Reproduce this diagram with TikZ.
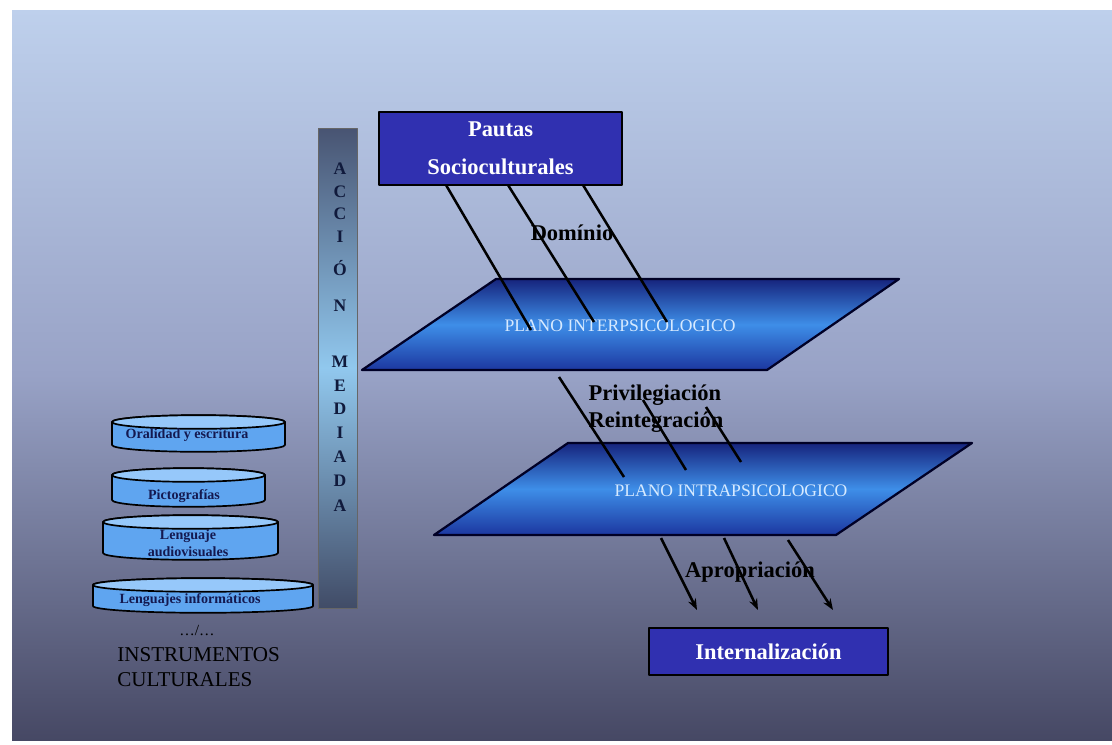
\documentclass[tikz,border=0pt]{standalone}
\usepackage{fontspec}
\setmainfont{Liberation Serif}
\usetikzlibrary{arrows.meta}

\definecolor{bgtop}{RGB}{190,208,236}
\definecolor{bgmid}{RGB}{152,162,198}
\definecolor{bgbot}{RGB}{70,72,100}
\definecolor{boxblue}{RGB}{48,48,176}
\definecolor{pltop}{RGB}{22,36,125}
\definecolor{plbot}{RGB}{28,55,160}
\definecolor{plblue}{RGB}{62,142,232}
\definecolor{cylblue}{RGB}{95,165,240}
\definecolor{cyltop}{RGB}{150,200,250}
\definecolor{cylink}{RGB}{20,25,80}
\definecolor{bardark}{RGB}{72,84,114}
\definecolor{barlight}{RGB}{145,200,238}
\definecolor{barink}{RGB}{16,26,60}
\definecolor{planink}{RGB}{215,234,255}

\tikzset{
  boxnode/.style={draw=black, line width=1pt, fill=boxblue, text=white, align=center, font=\fontsize{16}{19}\selectfont\bfseries},
  plane/.style={draw=black!85!blue, line width=1.6pt, top color=pltop, bottom color=plbot, middle color=plblue},
  planetext/.style={text=planink, font=\fontsize{12.5}{15}\selectfont},
  barletter/.style={text=barink, font=\fontsize{12.5}{15}\selectfont\bfseries, inner sep=0pt},
  arrowlabel/.style={font=\fontsize{16}{19}\selectfont\bfseries, inner sep=0pt},
  cylbody/.style={draw=black, line width=1.2pt, fill=cylblue},
  cyltopface/.style={draw=black, line width=1.2pt, fill=cyltop},
  cyltext/.style={text=cylink, font=\fontsize{10}{12}\selectfont\bfseries, align=center, inner sep=0pt},
  link/.style={line width=1.8pt}
}

% cylinder of the stack: centre x, top y, base y, half width
\newcommand{\instcyl}[4]{%
  \filldraw[cylbody] (#1-#4,#2) -- (#1-#4,#3) arc[start angle=180, end angle=360, x radius=#4*0.025cm, y radius=0.17cm]
    -- (#1+#4,#2) arc[start angle=0, end angle=180, x radius=#4*0.025cm, y radius=0.17cm] -- cycle;
  \filldraw[cyltopface] (#1,#2) ellipse[x radius=#4*0.025cm, y radius=0.17cm];
}

\begin{document}
\begin{tikzpicture}[x=0.025cm, y=-0.025cm, line join=round, >={Stealth[length=8pt,width=6pt]}]
  \useasboundingbox (0,0) rectangle (1112,744);
  \fill[white] (0,0) rectangle (1112,744);
  \shade[top color=bgtop, bottom color=bgbot, middle color=bgmid] (12,10) rectangle (1112,740);

  % accion mediada
  \shadedraw[draw=black!60, line width=0.4pt, top color=bardark, bottom color=bardark!90!black, middle color=barlight] (318,128) rectangle (357,608);
  \foreach \ch/\yy [count=\i] in {A/169, C/192, C/214, I/237, Ó/268, N/306, M/362, E/386, D/409, I/433, A/457, D/481, A/506}
    \node[barletter] (ltr\i) at (340,\yy) {\ch};

  % planes
  \coordinate (p1a) at (496,279);
  \coordinate (p1b) at (899,279);
  \coordinate (p1c) at (767,370);
  \coordinate (p1d) at (362,370);
  \coordinate (p2a) at (568,443);
  \coordinate (p2b) at (972,443);
  \coordinate (p2c) at (836,535);
  \coordinate (p2d) at (434,535);
  \shadedraw[plane] (p1a) -- (p1b) -- (p1c) -- (p1d) -- cycle;
  \shadedraw[plane] (p2a) -- (p2b) -- (p2c) -- (p2d) -- cycle;
  \node[planetext] (inter) at (620,326) {PLANO INTERPSICOLOGICO};
  \node[planetext] (intra) at (731,491) {PLANO INTRAPSICOLOGICO};

  % boxes
  \node[boxnode, minimum width=6.075cm, minimum height=1.825cm] (pautas) at (500.5,148.5) {Pautas\\[8pt]Socioculturales};
  \node[boxnode, minimum width=5.975cm, minimum height=1.175cm] (intern) at (768.5,651.5) {Internalización};

  % labels
  \node[arrowlabel] (dominio) at (572,233) {Domínio};
  \node[arrowlabel, align=left] (privi) at (656,409) {Privilegiación\\Reintegración};
  \node[arrowlabel] (apro) at (750,572) {Apropriación};

  % connectors
  \coordinate (dm1s) at (446,185);
  \coordinate (dm1e) at (531,330);
  \coordinate (dm2s) at (508,185);
  \coordinate (dm2e) at (594,322);
  \coordinate (dm3s) at (583,185);
  \coordinate (dm3e) at (667,322);
  \draw[link] (dm1s)--(dm1e) (dm2s)--(dm2e) (dm3s)--(dm3e);
  \coordinate (pr1s) at (559,377);
  \coordinate (pr1e) at (624,477);
  \coordinate (pr2s) at (643,400);
  \coordinate (pr2e) at (686,470);
  \coordinate (pr3s) at (706,407);
  \coordinate (pr3e) at (741,462);
  \draw[link] (pr1s)--(pr1e) (pr2s)--(pr2e) (pr3s)--(pr3e);
  \coordinate (ap1s) at (661,538);
  \coordinate (ap1e) at (697,610);
  \coordinate (ap2s) at (724,538);
  \coordinate (ap2e) at (758,610);
  \coordinate (ap3s) at (788,540);
  \coordinate (ap3e) at (833,610);
  \draw[link,->] (ap1s)--(ap1e);
  \draw[link,->] (ap2s)--(ap2e);
  \draw[link,->] (ap3s)--(ap3e);

  % instrumentos
  \instcyl{198.5}{422}{445}{86.5}
  \instcyl{188.5}{475}{500}{76.5}
  \instcyl{190.5}{522}{553}{87.5}
  \instcyl{203}{585}{606}{110}
  \node[cyltext] (oral) at (187,435) {Oralidad y escritura};
  \node[cyltext] (picto) at (184,496) {Pictografías};
  \node[cyltext] (audio) at (188,543) {Lenguaje\\audiovisuales};
  \node[cyltext] (infor) at (190,600) {Lenguajes informáticos};
  \node[font=\fontsize{11}{13}\selectfont] (etc) at (197,631) {\ldots/\ldots};
  \node[anchor=west, align=left, inner sep=0pt, font=\fontsize{15}{18}\selectfont] (instr) at (117,667) {INSTRUMENTOS\\CULTURALES};
\end{tikzpicture}
\end{document}
